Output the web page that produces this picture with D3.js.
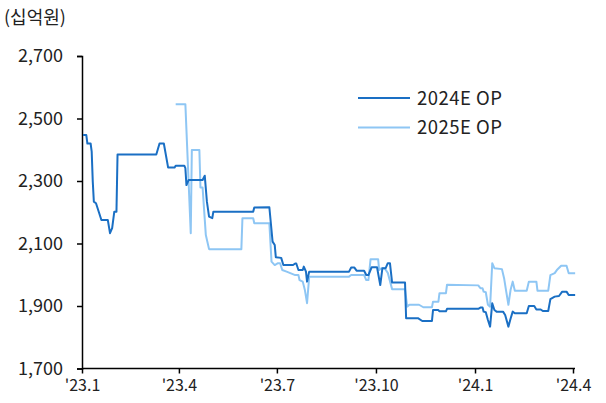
<!DOCTYPE html>
<html><head><meta charset="utf-8">
<script src="https://cdn.jsdelivr.net/npm/d3@7"></script>
<style>
body{margin:0;background:#fff;}
svg text{font-family:"Noto Sans CJK KR","Noto Sans",sans-serif;fill:#222;}
</style></head>
<body><svg id="c" width="606" height="403"></svg>
<script>
const unitLabel = "(십억원)";
const seriesNames = ["2024E OP", "2025E OP"];
const xTickDates = ["2023-01-01","2023-04-01","2023-07-01","2023-10-01","2024-01-01","2024-04-01"];
const xTickLabels = ["'23.1","'23.4","'23.7","'23.10","'24.1","'24.4"];
const yTicks = [1700,1900,2100,2300,2500,2700];

const op2024 = [
["2023-01-02",2447],["2023-01-05",2447],["2023-01-06",2420],["2023-01-09",2420],["2023-01-10",2394],["2023-01-11",2298],
["2023-01-12",2234],["2023-01-14",2229],["2023-01-17",2197],["2023-01-19",2175],["2023-01-25",2175],["2023-01-27",2133],
["2023-01-29",2149],["2023-01-31",2202],["2023-02-02",2202],["2023-02-03",2385],["2023-03-11",2385],["2023-03-14",2420],
["2023-03-18",2420],["2023-03-22",2343],["2023-03-28",2343],["2023-03-29",2349],["2023-04-06",2349],["2023-04-07",2341],
["2023-04-08",2287],["2023-04-10",2303],["2023-04-23",2303],["2023-04-25",2317],["2023-04-27",2234],["2023-04-29",2186],
["2023-05-02",2181],["2023-05-03",2202],["2023-06-09",2202],["2023-06-10",2215],["2023-06-24",2216],["2023-06-27",2106],
["2023-06-29",2095],["2023-06-30",2056],["2023-07-05",2054],["2023-07-07",2031],["2023-07-16",2031],["2023-07-18",2036],
["2023-07-19",2036],["2023-07-21",2015],["2023-07-25",2015],["2023-07-26",2026],["2023-07-28",2010],["2023-07-29",1978],
["2023-07-31",2010],["2023-09-06",2010],["2023-09-08",2023],["2023-09-11",2023],["2023-09-13",2013],["2023-09-20",2013],
["2023-09-22",1999],["2023-09-24",1999],["2023-09-27",2024],["2023-10-02",2024],["2023-10-05",1967],["2023-10-07",2021],
["2023-10-10",2021],["2023-10-12",2037],["2023-10-14",2037],["2023-10-16",1975],["2023-10-28",1975],["2023-10-29",1861],
["2023-11-09",1861],["2023-11-13",1852],["2023-11-22",1852],["2023-11-23",1887],["2023-11-28",1887],["2023-11-29",1883],
["2023-12-05",1883],["2023-12-06",1891],["2024-01-04",1891],["2024-01-06",1895],["2024-01-08",1895],["2024-01-09",1882],
["2024-01-11",1880],["2024-01-13",1855],["2024-01-15",1834],["2024-01-17",1909],["2024-01-19",1887],["2024-01-21",1882],
["2024-01-27",1882],["2024-01-29",1871],["2024-02-01",1834],["2024-02-03",1859],["2024-02-05",1882],["2024-02-07",1877],
["2024-02-18",1877],["2024-02-20",1900],["2024-02-25",1900],["2024-02-27",1889],["2024-03-02",1889],["2024-03-04",1884],
["2024-03-09",1884],["2024-03-11",1922],["2024-03-15",1930],["2024-03-19",1932],["2024-03-22",1946],["2024-03-26",1946],
["2024-03-28",1935],["2024-04-03",1935]
];
const op2025 = [
["2023-03-29",2546],["2023-04-07",2546],["2023-04-12",2133],["2023-04-13",2399],["2023-04-20",2399],["2023-04-21",2279],
["2023-04-23",2279],["2023-04-26",2127],["2023-04-29",2082],["2023-05-29",2082],["2023-05-30",2181],["2023-06-09",2181],
["2023-06-10",2165],["2023-06-24",2165],["2023-06-26",2042],["2023-06-29",2031],["2023-07-02",2037],["2023-07-04",2037],
["2023-07-06",2015],["2023-07-10",2010],["2023-07-18",1999],["2023-07-21",1999],["2023-07-22",1983],["2023-07-25",1978],
["2023-07-27",1951],["2023-07-29",1909],["2023-07-31",1994],["2023-09-06",1994],["2023-09-08",1999],["2023-09-20",1999],
["2023-09-22",1983],["2023-09-24",1983],["2023-09-26",2050],["2023-10-03",2050],["2023-10-04",2015],["2023-10-06",2021],
["2023-10-09",2021],["2023-10-12",2006],["2023-10-16",1954],["2023-10-28",1954],["2023-10-30",1898],["2023-11-01",1904],
["2023-11-10",1904],["2023-11-14",1896],["2023-11-22",1896],["2023-11-23",1914],["2023-11-28",1914],["2023-11-29",1941],
["2023-12-05",1941],["2023-12-06",1968],["2024-01-04",1966],["2024-01-06",1957],["2024-01-08",1957],["2024-01-09",1946],
["2024-01-11",1944],["2024-01-13",1904],["2024-01-15",1898],["2024-01-17",2037],["2024-01-19",2021],["2024-01-26",2018],
["2024-01-28",1989],["2024-01-30",1946],["2024-02-01",1904],["2024-02-03",1951],["2024-02-05",1978],["2024-02-07",1949],
["2024-02-18",1949],["2024-02-20",1978],["2024-02-27",1978],["2024-02-28",1949],["2024-03-09",1949],["2024-03-11",1999],
["2024-03-15",2005],["2024-03-17",2015],["2024-03-21",2029],["2024-03-26",2029],["2024-03-28",2005],["2024-04-03",2005]
];

const colors = ["#1a6fc4", "#8ec6f4"];
const parse = d3.utcParse("%Y-%m-%d");
const svg = d3.select("#c");
const x = d3.scaleUtc().domain([parse(xTickDates[0]), parse(xTickDates[xTickDates.length-1])]).range([82, 573]);
const y = d3.scaleLinear().domain([1700, 2700]).range([368.5, 56]);

// axes
const xAxis = d3.axisBottom(x).tickValues(xTickDates.map(parse)).tickFormat((d,i)=>xTickLabels[i]).tickSizeOuter(0).tickSize(5).tickPadding(6);
const gx = svg.append("g").attr("transform","translate(0,368.5)").call(xAxis);
gx.select(".domain").attr("d","M82,0H575").attr("stroke","#000").attr("stroke-width",1.5);
gx.selectAll(".tick line").attr("stroke","#000").attr("stroke-width",1.5);
gx.selectAll(".tick text").attr("font-size",16).attr("fill","#222").attr("font-family",null);

const yAxis = d3.axisLeft(y).tickValues(yTicks).tickFormat(d3.format(",")).tickSizeOuter(0).tickSize(5).tickPadding(14);
const gy = svg.append("g").attr("transform","translate(82,0)").call(yAxis);
gy.select(".domain").attr("stroke","#000").attr("stroke-width",1.5);
gy.selectAll(".tick line").attr("stroke","#000").attr("stroke-width",1.5);
gy.selectAll(".tick text").attr("font-size",18).attr("fill","#222").attr("font-family",null);

svg.append("text").attr("x",4).attr("y",24).attr("font-size",18).text(unitLabel);

// lines
const line = d3.line().x(d=>x(parse(d[0]))).y(d=>y(d[1]));
[op2025, op2024].forEach((s,i)=>{
  const ci = i===0 ? 1 : 0;
  svg.append("path").datum(s).attr("d",line).attr("fill","none")
    .attr("stroke",colors[ci]).attr("stroke-width",2).attr("stroke-linejoin","round");
});

// legend
seriesNames.forEach((n,i)=>{
  const ly = 98 + i*29.5;
  svg.append("line").attr("x1",358).attr("x2",410).attr("y1",ly).attr("y2",ly).attr("stroke",colors[i]).attr("stroke-width",2);
  svg.append("text").attr("x",417).attr("y",ly).attr("dy","0.36em").attr("font-size",18.5).attr("letter-spacing",0.5).text(n);
});
</script></body></html>
